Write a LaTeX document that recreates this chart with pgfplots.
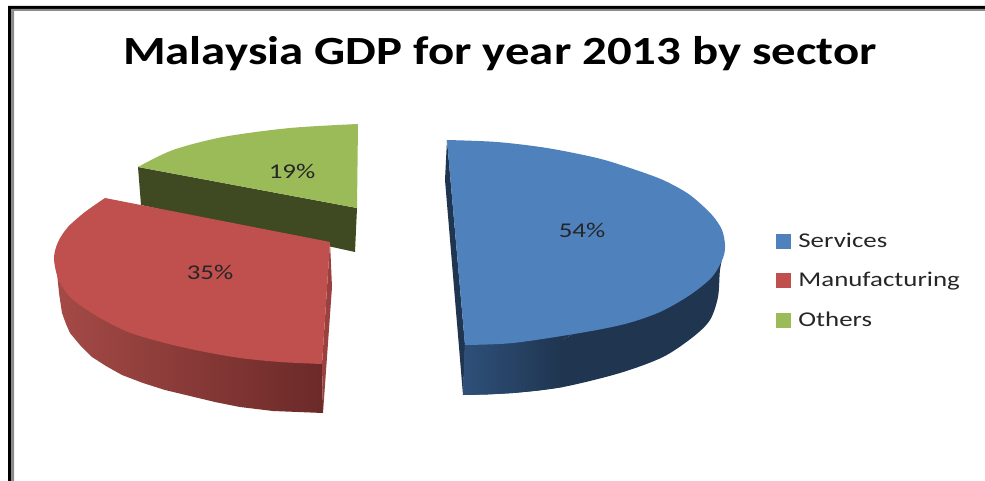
\documentclass[border=0pt]{standalone}
\usepackage{fontspec}
\setmainfont{Carlito}
\newfontfamily\titlefont[FakeStretch=1.22]{Carlito}
\newfontfamily\legfont[FakeStretch=1.28]{Carlito}
\usepackage{pgfplots}
\pgfplotsset{compat=1.18}
\definecolor{bt}{HTML}{4F81BD}
\definecolor{rt}{HTML}{C0504D}
\definecolor{gt}{HTML}{9BBB59}
\definecolor{gs}{HTML}{3F4A23}
\definecolor{bs}{HTML}{1F3550}
\definecolor{bl}{HTML}{2F5079}
\definecolor{rl}{HTML}{A54A47}
\definecolor{rr}{HTML}{6B2A28}
\begin{document}
\begin{tikzpicture}
\begin{axis}[
  hide axis, scale only axis, width=985pt, height=481pt,
  xmin=0, xmax=985, ymin=0, ymax=481, y dir=reverse,
  legend image code/.code={\fill[#1] (0pt,-7pt) rectangle (14pt,7pt);\path (22pt,0pt);},
  legend style={at={(776/985,1-233/481)},anchor=north west,draw=none,fill=none,
    inner sep=0pt,outer sep=0pt,row sep=23.5pt,
    font=\legfont\fontsize{21}{21}\selectfont\color{black!85},
    nodes={inner sep=0pt,anchor=west}},
  legend cell align=left,
]
\path (axis cs:0,0) rectangle (axis cs:985,481);
% frame
\addplot[draw=none,fill=black,forget plot] coordinates {(8,6)(985,6)(985,9)(11,9)(11,481)(8,481)};
\addplot[draw=none,fill=black!45,forget plot] coordinates {(11,9)(985,9)(985,11)(14,11)(14,481)(11,481)};
% Others (green)
\addplot[draw=none,fill=gs,forget plot] coordinates {(138,167)(357,208)(355,252)(141,205)};
\addplot[draw=none,fill=gt,forget plot] coordinates {(138,167)(250,138)(358,124)(357,208)};
\addplot[smooth,draw=none,fill=gt,forget plot] coordinates {(138,167)(173,150)(223,137)(290,128)(358,124)};
% Manufacturing (red)
\addplot[draw=none,left color=rl,right color=rr,forget plot] coordinates {
 (54,258)(57,273)(59,293)(62,313)(66,324)(70,333)(80,345)(92,357)(106,366)(122,375)(143,383)(165,390)(190,396)(215,402)(240,407)(273,411)(298,412)(323,413)(322,360)(60,283)};
\addplot[draw=none,fill=rt!80!black,forget plot] coordinates {(322,364)(330,242)(332,287)(323,413)};
\addplot[draw=none,fill=rt,forget plot] coordinates {(105,198)(330,242)(322,364)(150,300)};
\addplot[smooth,draw=none,fill=rt,forget plot] coordinates {(105,198)(85,212)(68,227)(58,242)(54,258)(58,278)(70,297)(95,315)(128,332)(165,343)(200,351)(240,358)(280,362)(322,364)};
% Services (blue)
\addplot[draw=none,fill=bs,forget plot] coordinates {(447,140)(445,180)(463,395)(465,345)};
\addplot[smooth,draw=none,fill=bs,forget plot] coordinates {(724,250)(720,270)(718,297)(710,320)(693,337)(663,357)(620,373)(563,387)(513,393)(463,395)};
\addplot[draw=none,fill=bs,forget plot] coordinates {(465,335)(724,250)(463,395)};
\addplot[draw=none,left color=bl,right color=bs,forget plot] coordinates {(465,335)(463,395)(488,394.5)(513,393)(538,390.5)(563,387)(563,335)};
\addplot[smooth,draw=none,fill=bt,forget plot] coordinates {(447,140)(497,142)(547,148)(597,158)(630,168)(663,180)(690,195)(712,215)(722,230)(725,245)(723,258)(712,277)(690,295)(660,312)(625,324)(580,333)(513,343)(465,345)};
% labels
\node[font=\legfont\fontsize{21}{21}\selectfont,text=black!85] at (axis cs:582,230) {54\%};
\node[font=\legfont\fontsize{21}{21}\selectfont,text=black!85] at (axis cs:210,272) {35\%};
\node[font=\legfont\fontsize{21}{21}\selectfont,text=black!85] at (axis cs:292,171) {19\%};
\node[font=\titlefont\bfseries\fontsize{40}{40}\selectfont,text=black] at (axis cs:500,54) {Malaysia GDP for year 2013 by sector};
% legend
\addlegendimage{bt}\addlegendentry{Services}
\addlegendimage{rt}\addlegendentry{Manufacturing}
\addlegendimage{gt}\addlegendentry{Others}
\end{axis}
\end{tikzpicture}
\end{document}
